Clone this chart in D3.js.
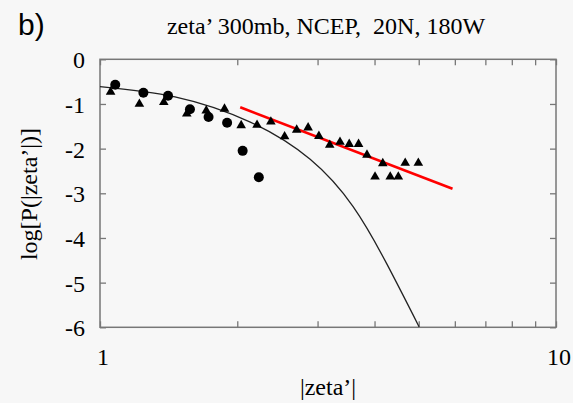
<html>
    <head>
        <script src="https://d3js.org/d3.v7.min.js" charset="utf-8"></script>
        <meta charset="utf-8">
        <style>
            body { margin:0; background:#f7f7f7; }
        </style>
    </head>
    <body>
        <svg class="chart"></svg>
    </body>
<script>
    // data
    var xTicks = [1,2,3,4,5,6,7,8,9,10];
    var xLabels = [1,10];
    var yTicks = [0,-1,-2,-3,-4,-5,-6];

    var circX = [1.08, 1.245, 1.41, 1.575, 1.73, 1.90, 2.055, 2.23];
    var circY = [-0.57, -0.75, -0.815, -1.12, -1.29, -1.42, -2.05, -2.64];

    var triX = [1.055, 1.22, 1.38, 1.55, 1.71, 1.875, 2.04, 2.21, 2.37, 2.54, 2.70, 2.86,
                3.02, 3.19, 3.36, 3.52, 3.69, 3.85, 4.01, 4.17, 4.33, 4.51, 4.67, 4.99];
    var triY = [-0.73, -1.00, -0.96, -1.22, -1.15, -1.11, -1.48, -1.47, -1.40, -1.73, -1.58, -1.53,
                -1.72, -1.92, -1.85, -1.90, -1.90, -2.14, -2.63, -2.33, -2.63, -2.63, -2.32, -2.32];

    // gaussian fit (black curve)
    var fitX = [1.00, 1.46, 2.13, 2.89, 3.59, 4.25, 5.01];
    var fitY = [-0.61, -0.84, -1.40, -2.24, -3.30, -4.57, -5.99];

    // power law fit (red line)
    var powX = [2.03, 5.93];
    var powY = [-1.075, -2.90];

    var W = 573, H = 403;
    var mLeft = 100, mRight = 556, mTop = 59.3, mBottom = 327.3;

    var svg = d3.select('.chart')
        .attr("width", W)
        .attr("height", H)
        .style("font-family", "'Liberation Serif', 'Times New Roman', serif");

    var x = d3.scaleLog().domain([1,10]).range([mLeft,mRight]);
    var y = d3.scaleLinear().domain([0,-6]).range([mTop,mBottom]);

    // ticks on all four sides, pointing inwards
    function noDomain(g){ g.select(".domain").remove(); }
    svg.append("g").attr("transform","translate(0,"+mBottom+")")
        .call(d3.axisBottom(x).tickValues(xTicks).tickSize(-6).tickFormat(""))
        .call(noDomain);
    svg.append("g").attr("transform","translate(0,"+mTop+")")
        .call(d3.axisTop(x).tickValues(xTicks).tickSize(-6).tickFormat(""))
        .call(noDomain);
    svg.append("g").attr("transform","translate("+mLeft+",0)")
        .call(d3.axisLeft(y).tickValues(yTicks).tickSize(-6).tickFormat(""))
        .call(noDomain);
    svg.append("g").attr("transform","translate("+mRight+",0)")
        .call(d3.axisRight(y).tickValues(yTicks).tickSize(-6).tickFormat(""))
        .call(noDomain);
    svg.selectAll(".tick line").attr("stroke","#777").attr("stroke-width",1.3);

    svg.append("rect")
        .attr("x",mLeft).attr("y",mTop)
        .attr("width",mRight-mLeft).attr("height",mBottom-mTop)
        .attr("fill","none").attr("stroke","#777").attr("stroke-width",1.5);

    // tick labels
    svg.selectAll(".xl").data(xLabels).enter().append("text")
        .attr("x",function(d){ return x(d)+3; })
        .attr("y",mBottom+38)
        .attr("text-anchor","middle")
        .style("font-size","24px")
        .text(function(d){ return d; });
    svg.selectAll(".yl").data(yTicks).enter().append("text")
        .attr("x",mLeft-15)
        .attr("y",function(d){ return y(d)+9; })
        .attr("text-anchor","end")
        .style("font-size","24px")
        .text(function(d){ return d; });

    // curves
    var fit = fitX.map(function(d,i){ return [d, fitY[i]]; });
    svg.append("path")
        .datum(fit)
        .attr("fill","none")
        .attr("stroke","#222")
        .attr("stroke-width",1.3)
        .attr("d", d3.line().x(function(d){ return x(d[0]); }).y(function(d){ return y(d[1]); }).curve(d3.curveNatural));

    var pow = powX.map(function(d,i){ return [d, powY[i]]; });
    svg.append("path")
        .datum(pow)
        .attr("fill","none")
        .attr("stroke","#f00")
        .attr("stroke-width",2.6)
        .attr("d", d3.line().x(function(d){ return x(d[0]); }).y(function(d){ return y(d[1]); }));

    // points
    svg.selectAll(".tri").data(triX).enter().append("path")
        .attr("transform",function(d,i){ return "translate("+x(d)+","+y(triY[i])+")"; })
        .attr("d", d3.symbol().type(d3.symbolTriangle).size(40))
        .attr("fill","#000");
    svg.selectAll(".circ").data(circX).enter().append("circle")
        .attr("cx",function(d){ return x(d); })
        .attr("cy",function(d,i){ return y(circY[i]); })
        .attr("r",5)
        .attr("fill","#000");

    // titles
    svg.append("text")
        .attr("x",18).attr("y",35)
        .style("font-family","'Liberation Sans', Arial, sans-serif")
        .style("font-size","30px")
        .text("b)");
    svg.append("text")
        .attr("x",326).attr("y",34)
        .attr("text-anchor","middle")
        .style("font-size","24px")
        .style("white-space","pre")
        .text("zeta\u2019 300mb, NCEP,  20N, 180W");
    svg.append("text")
        .attr("x",328).attr("y",395)
        .attr("text-anchor","middle")
        .style("font-size","24px")
        .text("|zeta\u2019|");
    svg.append("text")
        .attr("transform","translate(37,194) rotate(-90)")
        .attr("text-anchor","middle")
        .style("font-size","24px")
        .text("log[P(|zeta\u2019|)]");
</script>
</html>
